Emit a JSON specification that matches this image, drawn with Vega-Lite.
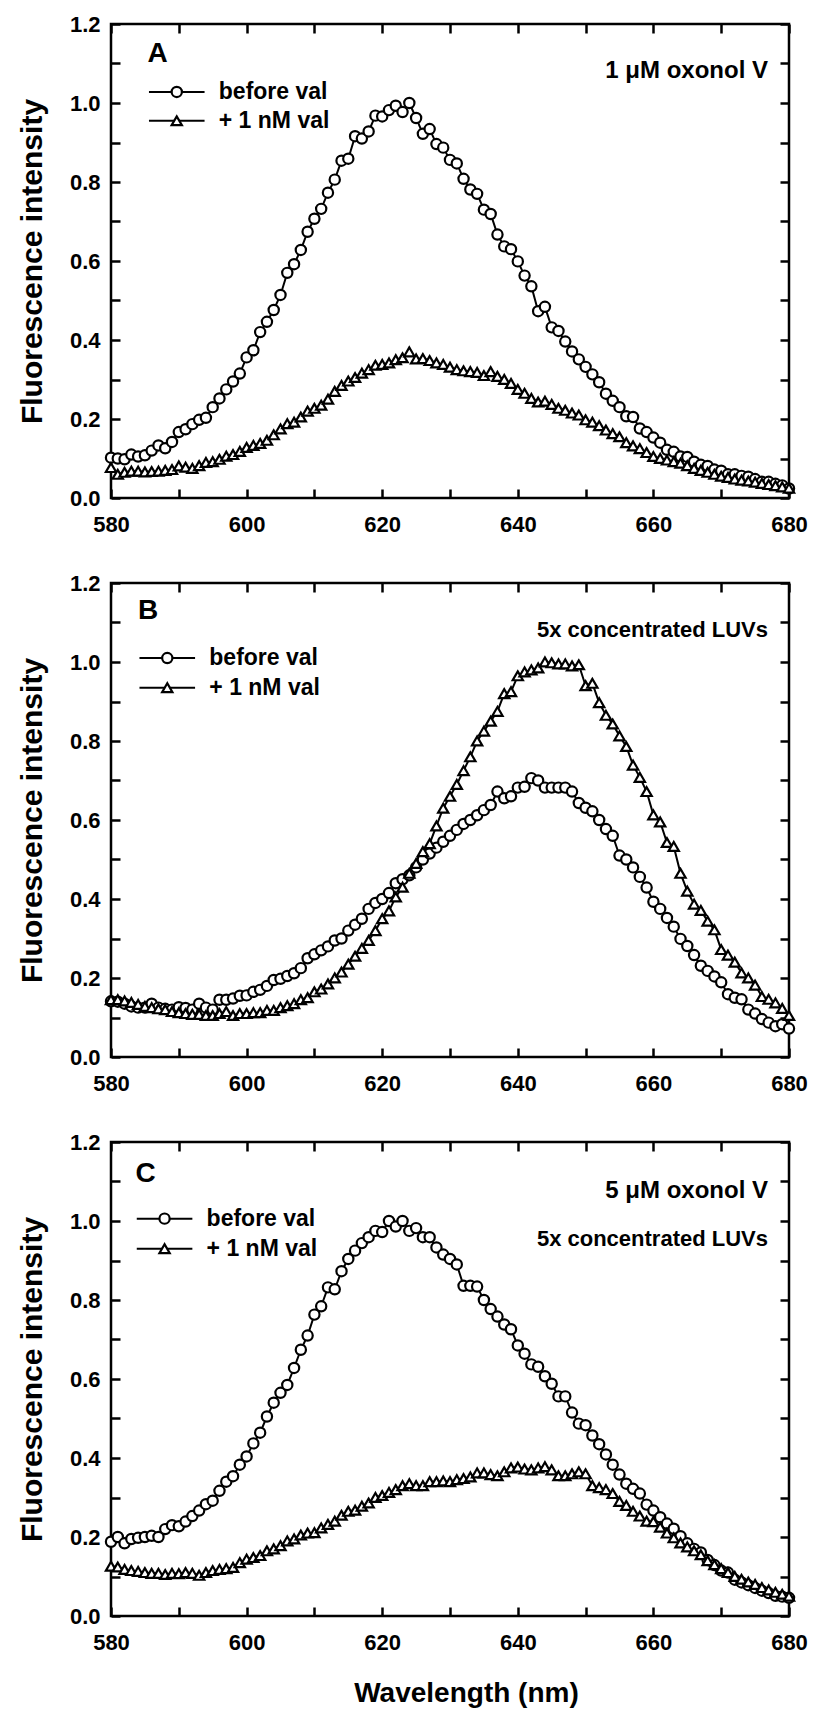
{
"$schema": "https://vega.github.io/schema/vega-lite/v6.json",
"background": "white",
"padding": {"left": 16, "top": 11, "right": 5, "bottom": 5},
"spacing": 85,
"bounds": "flush",
"datasets": {
"A": [
{"series":"before val","nm":580,"val":0.102},{"series":"before val","nm":581,"val":0.100},{"series":"before val","nm":582,"val":0.098},{"series":"before val","nm":583,"val":0.110},{"series":"before val","nm":584,"val":0.105},{"series":"before val","nm":585,"val":0.108},{"series":"before val","nm":586,"val":0.120},{"series":"before val","nm":587,"val":0.133},{"series":"before val","nm":588,"val":0.126},{"series":"before val","nm":589,"val":0.142},
{"series":"before val","nm":590,"val":0.167},{"series":"before val","nm":591,"val":0.174},{"series":"before val","nm":592,"val":0.187},{"series":"before val","nm":593,"val":0.198},{"series":"before val","nm":594,"val":0.203},{"series":"before val","nm":595,"val":0.230},{"series":"before val","nm":596,"val":0.252},{"series":"before val","nm":597,"val":0.275},{"series":"before val","nm":598,"val":0.295},{"series":"before val","nm":599,"val":0.315},
{"series":"before val","nm":600,"val":0.356},{"series":"before val","nm":601,"val":0.374},{"series":"before val","nm":602,"val":0.420},{"series":"before val","nm":603,"val":0.446},{"series":"before val","nm":604,"val":0.476},{"series":"before val","nm":605,"val":0.514},{"series":"before val","nm":606,"val":0.570},{"series":"before val","nm":607,"val":0.592},{"series":"before val","nm":608,"val":0.628},{"series":"before val","nm":609,"val":0.674},
{"series":"before val","nm":610,"val":0.707},{"series":"before val","nm":611,"val":0.732},{"series":"before val","nm":612,"val":0.773},{"series":"before val","nm":613,"val":0.806},{"series":"before val","nm":614,"val":0.854},{"series":"before val","nm":615,"val":0.859},{"series":"before val","nm":616,"val":0.916},{"series":"before val","nm":617,"val":0.910},{"series":"before val","nm":618,"val":0.928},{"series":"before val","nm":619,"val":0.968},
{"series":"before val","nm":620,"val":0.966},{"series":"before val","nm":621,"val":0.982},{"series":"before val","nm":622,"val":0.993},{"series":"before val","nm":623,"val":0.977},{"series":"before val","nm":624,"val":1.000},{"series":"before val","nm":625,"val":0.962},{"series":"before val","nm":626,"val":0.922},{"series":"before val","nm":627,"val":0.934},{"series":"before val","nm":628,"val":0.896},{"series":"before val","nm":629,"val":0.887},
{"series":"before val","nm":630,"val":0.856},{"series":"before val","nm":631,"val":0.847},{"series":"before val","nm":632,"val":0.808},{"series":"before val","nm":633,"val":0.781},{"series":"before val","nm":634,"val":0.770},{"series":"before val","nm":635,"val":0.730},{"series":"before val","nm":636,"val":0.719},{"series":"before val","nm":637,"val":0.667},{"series":"before val","nm":638,"val":0.637},{"series":"before val","nm":639,"val":0.630},
{"series":"before val","nm":640,"val":0.599},{"series":"before val","nm":641,"val":0.563},{"series":"before val","nm":642,"val":0.536},{"series":"before val","nm":643,"val":0.473},{"series":"before val","nm":644,"val":0.484},{"series":"before val","nm":645,"val":0.432},{"series":"before val","nm":646,"val":0.423},{"series":"before val","nm":647,"val":0.396},{"series":"before val","nm":648,"val":0.371},{"series":"before val","nm":649,"val":0.351},
{"series":"before val","nm":650,"val":0.332},{"series":"before val","nm":651,"val":0.313},{"series":"before val","nm":652,"val":0.293},{"series":"before val","nm":653,"val":0.264},{"series":"before val","nm":654,"val":0.246},{"series":"before val","nm":655,"val":0.230},{"series":"before val","nm":656,"val":0.207},{"series":"before val","nm":657,"val":0.205},{"series":"before val","nm":658,"val":0.176},{"series":"before val","nm":659,"val":0.167},
{"series":"before val","nm":660,"val":0.153},{"series":"before val","nm":661,"val":0.140},{"series":"before val","nm":662,"val":0.122},{"series":"before val","nm":663,"val":0.117},{"series":"before val","nm":664,"val":0.105},{"series":"before val","nm":665,"val":0.104},{"series":"before val","nm":666,"val":0.092},{"series":"before val","nm":667,"val":0.084},{"series":"before val","nm":668,"val":0.081},{"series":"before val","nm":669,"val":0.072},
{"series":"before val","nm":670,"val":0.069},{"series":"before val","nm":671,"val":0.060},{"series":"before val","nm":672,"val":0.060},{"series":"before val","nm":673,"val":0.056},{"series":"before val","nm":674,"val":0.054},{"series":"before val","nm":675,"val":0.048},{"series":"before val","nm":676,"val":0.041},{"series":"before val","nm":677,"val":0.041},{"series":"before val","nm":678,"val":0.036},{"series":"before val","nm":679,"val":0.032},
{"series":"before val","nm":680,"val":0.024},
{"series":"+ 1 nM val","nm":580,"val":0.077},{"series":"+ 1 nM val","nm":581,"val":0.060},{"series":"+ 1 nM val","nm":582,"val":0.065},{"series":"+ 1 nM val","nm":583,"val":0.068},{"series":"+ 1 nM val","nm":584,"val":0.068},{"series":"+ 1 nM val","nm":585,"val":0.066},{"series":"+ 1 nM val","nm":586,"val":0.067},{"series":"+ 1 nM val","nm":587,"val":0.068},{"series":"+ 1 nM val","nm":588,"val":0.070},{"series":"+ 1 nM val","nm":589,"val":0.072},
{"series":"+ 1 nM val","nm":590,"val":0.081},{"series":"+ 1 nM val","nm":591,"val":0.078},{"series":"+ 1 nM val","nm":592,"val":0.075},{"series":"+ 1 nM val","nm":593,"val":0.082},{"series":"+ 1 nM val","nm":594,"val":0.090},{"series":"+ 1 nM val","nm":595,"val":0.092},{"series":"+ 1 nM val","nm":596,"val":0.098},{"series":"+ 1 nM val","nm":597,"val":0.106},{"series":"+ 1 nM val","nm":598,"val":0.110},{"series":"+ 1 nM val","nm":599,"val":0.118},
{"series":"+ 1 nM val","nm":600,"val":0.128},{"series":"+ 1 nM val","nm":601,"val":0.133},{"series":"+ 1 nM val","nm":602,"val":0.138},{"series":"+ 1 nM val","nm":603,"val":0.146},{"series":"+ 1 nM val","nm":604,"val":0.160},{"series":"+ 1 nM val","nm":605,"val":0.175},{"series":"+ 1 nM val","nm":606,"val":0.188},{"series":"+ 1 nM val","nm":607,"val":0.192},{"series":"+ 1 nM val","nm":608,"val":0.205},{"series":"+ 1 nM val","nm":609,"val":0.220},
{"series":"+ 1 nM val","nm":610,"val":0.227},{"series":"+ 1 nM val","nm":611,"val":0.235},{"series":"+ 1 nM val","nm":612,"val":0.250},{"series":"+ 1 nM val","nm":613,"val":0.270},{"series":"+ 1 nM val","nm":614,"val":0.285},{"series":"+ 1 nM val","nm":615,"val":0.296},{"series":"+ 1 nM val","nm":616,"val":0.305},{"series":"+ 1 nM val","nm":617,"val":0.316},{"series":"+ 1 nM val","nm":618,"val":0.325},{"series":"+ 1 nM val","nm":619,"val":0.336},
{"series":"+ 1 nM val","nm":620,"val":0.338},{"series":"+ 1 nM val","nm":621,"val":0.342},{"series":"+ 1 nM val","nm":622,"val":0.350},{"series":"+ 1 nM val","nm":623,"val":0.355},{"series":"+ 1 nM val","nm":624,"val":0.370},{"series":"+ 1 nM val","nm":625,"val":0.352},{"series":"+ 1 nM val","nm":626,"val":0.353},{"series":"+ 1 nM val","nm":627,"val":0.348},{"series":"+ 1 nM val","nm":628,"val":0.342},{"series":"+ 1 nM val","nm":629,"val":0.338},
{"series":"+ 1 nM val","nm":630,"val":0.331},{"series":"+ 1 nM val","nm":631,"val":0.325},{"series":"+ 1 nM val","nm":632,"val":0.322},{"series":"+ 1 nM val","nm":633,"val":0.320},{"series":"+ 1 nM val","nm":634,"val":0.318},{"series":"+ 1 nM val","nm":635,"val":0.310},{"series":"+ 1 nM val","nm":636,"val":0.320},{"series":"+ 1 nM val","nm":637,"val":0.308},{"series":"+ 1 nM val","nm":638,"val":0.300},{"series":"+ 1 nM val","nm":639,"val":0.290},
{"series":"+ 1 nM val","nm":640,"val":0.275},{"series":"+ 1 nM val","nm":641,"val":0.265},{"series":"+ 1 nM val","nm":642,"val":0.252},{"series":"+ 1 nM val","nm":643,"val":0.243},{"series":"+ 1 nM val","nm":644,"val":0.245},{"series":"+ 1 nM val","nm":645,"val":0.237},{"series":"+ 1 nM val","nm":646,"val":0.227},{"series":"+ 1 nM val","nm":647,"val":0.222},{"series":"+ 1 nM val","nm":648,"val":0.215},{"series":"+ 1 nM val","nm":649,"val":0.210},
{"series":"+ 1 nM val","nm":650,"val":0.198},{"series":"+ 1 nM val","nm":651,"val":0.192},{"series":"+ 1 nM val","nm":652,"val":0.183},{"series":"+ 1 nM val","nm":653,"val":0.172},{"series":"+ 1 nM val","nm":654,"val":0.163},{"series":"+ 1 nM val","nm":655,"val":0.155},{"series":"+ 1 nM val","nm":656,"val":0.140},{"series":"+ 1 nM val","nm":657,"val":0.132},{"series":"+ 1 nM val","nm":658,"val":0.125},{"series":"+ 1 nM val","nm":659,"val":0.115},
{"series":"+ 1 nM val","nm":660,"val":0.105},{"series":"+ 1 nM val","nm":661,"val":0.100},{"series":"+ 1 nM val","nm":662,"val":0.096},{"series":"+ 1 nM val","nm":663,"val":0.092},{"series":"+ 1 nM val","nm":664,"val":0.088},{"series":"+ 1 nM val","nm":665,"val":0.082},{"series":"+ 1 nM val","nm":666,"val":0.075},{"series":"+ 1 nM val","nm":667,"val":0.070},{"series":"+ 1 nM val","nm":668,"val":0.065},{"series":"+ 1 nM val","nm":669,"val":0.060},
{"series":"+ 1 nM val","nm":670,"val":0.055},{"series":"+ 1 nM val","nm":671,"val":0.052},{"series":"+ 1 nM val","nm":672,"val":0.048},{"series":"+ 1 nM val","nm":673,"val":0.045},{"series":"+ 1 nM val","nm":674,"val":0.043},{"series":"+ 1 nM val","nm":675,"val":0.040},{"series":"+ 1 nM val","nm":676,"val":0.037},{"series":"+ 1 nM val","nm":677,"val":0.034},{"series":"+ 1 nM val","nm":678,"val":0.031},{"series":"+ 1 nM val","nm":679,"val":0.028},
{"series":"+ 1 nM val","nm":680,"val":0.025}
],
"B": [
{"series":"before val","nm":580,"val":0.141},{"series":"before val","nm":581,"val":0.140},{"series":"before val","nm":582,"val":0.135},{"series":"before val","nm":583,"val":0.128},{"series":"before val","nm":584,"val":0.125},{"series":"before val","nm":585,"val":0.125},{"series":"before val","nm":586,"val":0.135},{"series":"before val","nm":587,"val":0.125},{"series":"before val","nm":588,"val":0.122},{"series":"before val","nm":589,"val":0.120},
{"series":"before val","nm":590,"val":0.126},{"series":"before val","nm":591,"val":0.124},{"series":"before val","nm":592,"val":0.120},{"series":"before val","nm":593,"val":0.135},{"series":"before val","nm":594,"val":0.125},{"series":"before val","nm":595,"val":0.120},{"series":"before val","nm":596,"val":0.145},{"series":"before val","nm":597,"val":0.145},{"series":"before val","nm":598,"val":0.148},{"series":"before val","nm":599,"val":0.155},
{"series":"before val","nm":600,"val":0.156},{"series":"before val","nm":601,"val":0.165},{"series":"before val","nm":602,"val":0.170},{"series":"before val","nm":603,"val":0.180},{"series":"before val","nm":604,"val":0.195},{"series":"before val","nm":605,"val":0.198},{"series":"before val","nm":606,"val":0.205},{"series":"before val","nm":607,"val":0.212},{"series":"before val","nm":608,"val":0.225},{"series":"before val","nm":609,"val":0.250},
{"series":"before val","nm":610,"val":0.260},{"series":"before val","nm":611,"val":0.270},{"series":"before val","nm":612,"val":0.280},{"series":"before val","nm":613,"val":0.295},{"series":"before val","nm":614,"val":0.300},{"series":"before val","nm":615,"val":0.320},{"series":"before val","nm":616,"val":0.335},{"series":"before val","nm":617,"val":0.350},{"series":"before val","nm":618,"val":0.375},{"series":"before val","nm":619,"val":0.390},
{"series":"before val","nm":620,"val":0.400},{"series":"before val","nm":621,"val":0.415},{"series":"before val","nm":622,"val":0.440},{"series":"before val","nm":623,"val":0.450},{"series":"before val","nm":624,"val":0.460},{"series":"before val","nm":625,"val":0.480},{"series":"before val","nm":626,"val":0.500},{"series":"before val","nm":627,"val":0.515},{"series":"before val","nm":628,"val":0.530},{"series":"before val","nm":629,"val":0.545},
{"series":"before val","nm":630,"val":0.560},{"series":"before val","nm":631,"val":0.575},{"series":"before val","nm":632,"val":0.590},{"series":"before val","nm":633,"val":0.600},{"series":"before val","nm":634,"val":0.612},{"series":"before val","nm":635,"val":0.625},{"series":"before val","nm":636,"val":0.638},{"series":"before val","nm":637,"val":0.672},{"series":"before val","nm":638,"val":0.655},{"series":"before val","nm":639,"val":0.660},
{"series":"before val","nm":640,"val":0.682},{"series":"before val","nm":641,"val":0.684},{"series":"before val","nm":642,"val":0.706},{"series":"before val","nm":643,"val":0.700},{"series":"before val","nm":644,"val":0.682},{"series":"before val","nm":645,"val":0.682},{"series":"before val","nm":646,"val":0.682},{"series":"before val","nm":647,"val":0.682},{"series":"before val","nm":648,"val":0.672},{"series":"before val","nm":649,"val":0.643},
{"series":"before val","nm":650,"val":0.631},{"series":"before val","nm":651,"val":0.622},{"series":"before val","nm":652,"val":0.600},{"series":"before val","nm":653,"val":0.577},{"series":"before val","nm":654,"val":0.560},{"series":"before val","nm":655,"val":0.510},{"series":"before val","nm":656,"val":0.500},{"series":"before val","nm":657,"val":0.480},{"series":"before val","nm":658,"val":0.456},{"series":"before val","nm":659,"val":0.429},
{"series":"before val","nm":660,"val":0.393},{"series":"before val","nm":661,"val":0.375},{"series":"before val","nm":662,"val":0.352},{"series":"before val","nm":663,"val":0.330},{"series":"before val","nm":664,"val":0.299},{"series":"before val","nm":665,"val":0.281},{"series":"before val","nm":666,"val":0.258},{"series":"before val","nm":667,"val":0.231},{"series":"before val","nm":668,"val":0.218},{"series":"before val","nm":669,"val":0.204},
{"series":"before val","nm":670,"val":0.189},{"series":"before val","nm":671,"val":0.159},{"series":"before val","nm":672,"val":0.150},{"series":"before val","nm":673,"val":0.146},{"series":"before val","nm":674,"val":0.120},{"series":"before val","nm":675,"val":0.110},{"series":"before val","nm":676,"val":0.096},{"series":"before val","nm":677,"val":0.087},{"series":"before val","nm":678,"val":0.078},{"series":"before val","nm":679,"val":0.083},
{"series":"before val","nm":680,"val":0.072},
{"series":"+ 1 nM val","nm":580,"val":0.145},{"series":"+ 1 nM val","nm":581,"val":0.145},{"series":"+ 1 nM val","nm":582,"val":0.142},{"series":"+ 1 nM val","nm":583,"val":0.138},{"series":"+ 1 nM val","nm":584,"val":0.133},{"series":"+ 1 nM val","nm":585,"val":0.128},{"series":"+ 1 nM val","nm":586,"val":0.125},{"series":"+ 1 nM val","nm":587,"val":0.122},{"series":"+ 1 nM val","nm":588,"val":0.120},{"series":"+ 1 nM val","nm":589,"val":0.115},
{"series":"+ 1 nM val","nm":590,"val":0.112},{"series":"+ 1 nM val","nm":591,"val":0.110},{"series":"+ 1 nM val","nm":592,"val":0.108},{"series":"+ 1 nM val","nm":593,"val":0.108},{"series":"+ 1 nM val","nm":594,"val":0.105},{"series":"+ 1 nM val","nm":595,"val":0.105},{"series":"+ 1 nM val","nm":596,"val":0.110},{"series":"+ 1 nM val","nm":597,"val":0.115},{"series":"+ 1 nM val","nm":598,"val":0.105},{"series":"+ 1 nM val","nm":599,"val":0.110},
{"series":"+ 1 nM val","nm":600,"val":0.110},{"series":"+ 1 nM val","nm":601,"val":0.112},{"series":"+ 1 nM val","nm":602,"val":0.112},{"series":"+ 1 nM val","nm":603,"val":0.118},{"series":"+ 1 nM val","nm":604,"val":0.118},{"series":"+ 1 nM val","nm":605,"val":0.125},{"series":"+ 1 nM val","nm":606,"val":0.130},{"series":"+ 1 nM val","nm":607,"val":0.135},{"series":"+ 1 nM val","nm":608,"val":0.145},{"series":"+ 1 nM val","nm":609,"val":0.150},
{"series":"+ 1 nM val","nm":610,"val":0.165},{"series":"+ 1 nM val","nm":611,"val":0.172},{"series":"+ 1 nM val","nm":612,"val":0.185},{"series":"+ 1 nM val","nm":613,"val":0.200},{"series":"+ 1 nM val","nm":614,"val":0.215},{"series":"+ 1 nM val","nm":615,"val":0.235},{"series":"+ 1 nM val","nm":616,"val":0.255},{"series":"+ 1 nM val","nm":617,"val":0.275},{"series":"+ 1 nM val","nm":618,"val":0.295},{"series":"+ 1 nM val","nm":619,"val":0.320},
{"series":"+ 1 nM val","nm":620,"val":0.350},{"series":"+ 1 nM val","nm":621,"val":0.370},{"series":"+ 1 nM val","nm":622,"val":0.405},{"series":"+ 1 nM val","nm":623,"val":0.430},{"series":"+ 1 nM val","nm":624,"val":0.465},{"series":"+ 1 nM val","nm":625,"val":0.490},{"series":"+ 1 nM val","nm":626,"val":0.520},{"series":"+ 1 nM val","nm":627,"val":0.540},{"series":"+ 1 nM val","nm":628,"val":0.585},{"series":"+ 1 nM val","nm":629,"val":0.630},
{"series":"+ 1 nM val","nm":630,"val":0.660},{"series":"+ 1 nM val","nm":631,"val":0.690},{"series":"+ 1 nM val","nm":632,"val":0.725},{"series":"+ 1 nM val","nm":633,"val":0.760},{"series":"+ 1 nM val","nm":634,"val":0.800},{"series":"+ 1 nM val","nm":635,"val":0.825},{"series":"+ 1 nM val","nm":636,"val":0.850},{"series":"+ 1 nM val","nm":637,"val":0.875},{"series":"+ 1 nM val","nm":638,"val":0.920},{"series":"+ 1 nM val","nm":639,"val":0.925},
{"series":"+ 1 nM val","nm":640,"val":0.965},{"series":"+ 1 nM val","nm":641,"val":0.975},{"series":"+ 1 nM val","nm":642,"val":0.980},{"series":"+ 1 nM val","nm":643,"val":0.985},{"series":"+ 1 nM val","nm":644,"val":1.000},{"series":"+ 1 nM val","nm":645,"val":0.998},{"series":"+ 1 nM val","nm":646,"val":0.995},{"series":"+ 1 nM val","nm":647,"val":0.995},{"series":"+ 1 nM val","nm":648,"val":0.990},{"series":"+ 1 nM val","nm":649,"val":0.993},
{"series":"+ 1 nM val","nm":650,"val":0.940},{"series":"+ 1 nM val","nm":651,"val":0.946},{"series":"+ 1 nM val","nm":652,"val":0.897},{"series":"+ 1 nM val","nm":653,"val":0.865},{"series":"+ 1 nM val","nm":654,"val":0.843},{"series":"+ 1 nM val","nm":655,"val":0.813},{"series":"+ 1 nM val","nm":656,"val":0.786},{"series":"+ 1 nM val","nm":657,"val":0.739},{"series":"+ 1 nM val","nm":658,"val":0.708},{"series":"+ 1 nM val","nm":659,"val":0.672},
{"series":"+ 1 nM val","nm":660,"val":0.613},{"series":"+ 1 nM val","nm":661,"val":0.595},{"series":"+ 1 nM val","nm":662,"val":0.543},{"series":"+ 1 nM val","nm":663,"val":0.533},{"series":"+ 1 nM val","nm":664,"val":0.465},{"series":"+ 1 nM val","nm":665,"val":0.420},{"series":"+ 1 nM val","nm":666,"val":0.387},{"series":"+ 1 nM val","nm":667,"val":0.371},{"series":"+ 1 nM val","nm":668,"val":0.344},{"series":"+ 1 nM val","nm":669,"val":0.322},
{"series":"+ 1 nM val","nm":670,"val":0.272},{"series":"+ 1 nM val","nm":671,"val":0.258},{"series":"+ 1 nM val","nm":672,"val":0.240},{"series":"+ 1 nM val","nm":673,"val":0.213},{"series":"+ 1 nM val","nm":674,"val":0.200},{"series":"+ 1 nM val","nm":675,"val":0.182},{"series":"+ 1 nM val","nm":676,"val":0.153},{"series":"+ 1 nM val","nm":677,"val":0.146},{"series":"+ 1 nM val","nm":678,"val":0.137},{"series":"+ 1 nM val","nm":679,"val":0.123},
{"series":"+ 1 nM val","nm":680,"val":0.105}
],
"C": [
{"series":"before val","nm":580,"val":0.188},{"series":"before val","nm":581,"val":0.200},{"series":"before val","nm":582,"val":0.184},{"series":"before val","nm":583,"val":0.195},{"series":"before val","nm":584,"val":0.198},{"series":"before val","nm":585,"val":0.200},{"series":"before val","nm":586,"val":0.203},{"series":"before val","nm":587,"val":0.200},{"series":"before val","nm":588,"val":0.220},{"series":"before val","nm":589,"val":0.230},
{"series":"before val","nm":590,"val":0.227},{"series":"before val","nm":591,"val":0.239},{"series":"before val","nm":592,"val":0.253},{"series":"before val","nm":593,"val":0.267},{"series":"before val","nm":594,"val":0.283},{"series":"before val","nm":595,"val":0.292},{"series":"before val","nm":596,"val":0.317},{"series":"before val","nm":597,"val":0.340},{"series":"before val","nm":598,"val":0.354},{"series":"before val","nm":599,"val":0.383},
{"series":"before val","nm":600,"val":0.404},{"series":"before val","nm":601,"val":0.437},{"series":"before val","nm":602,"val":0.464},{"series":"before val","nm":603,"val":0.505},{"series":"before val","nm":604,"val":0.540},{"series":"before val","nm":605,"val":0.565},{"series":"before val","nm":606,"val":0.585},{"series":"before val","nm":607,"val":0.628},{"series":"before val","nm":608,"val":0.674},{"series":"before val","nm":609,"val":0.710},
{"series":"before val","nm":610,"val":0.763},{"series":"before val","nm":611,"val":0.784},{"series":"before val","nm":612,"val":0.832},{"series":"before val","nm":613,"val":0.827},{"series":"before val","nm":614,"val":0.873},{"series":"before val","nm":615,"val":0.904},{"series":"before val","nm":616,"val":0.925},{"series":"before val","nm":617,"val":0.944},{"series":"before val","nm":618,"val":0.959},{"series":"before val","nm":619,"val":0.975},
{"series":"before val","nm":620,"val":0.972},{"series":"before val","nm":621,"val":1.000},{"series":"before val","nm":622,"val":0.986},{"series":"before val","nm":623,"val":1.000},{"series":"before val","nm":624,"val":0.975},{"series":"before val","nm":625,"val":0.982},{"series":"before val","nm":626,"val":0.959},{"series":"before val","nm":627,"val":0.959},{"series":"before val","nm":628,"val":0.933},{"series":"before val","nm":629,"val":0.915},
{"series":"before val","nm":630,"val":0.904},{"series":"before val","nm":631,"val":0.890},{"series":"before val","nm":632,"val":0.836},{"series":"before val","nm":633,"val":0.836},{"series":"before val","nm":634,"val":0.834},{"series":"before val","nm":635,"val":0.800},{"series":"before val","nm":636,"val":0.777},{"series":"before val","nm":637,"val":0.758},{"series":"before val","nm":638,"val":0.738},{"series":"before val","nm":639,"val":0.726},
{"series":"before val","nm":640,"val":0.685},{"series":"before val","nm":641,"val":0.664},{"series":"before val","nm":642,"val":0.637},{"series":"before val","nm":643,"val":0.631},{"series":"before val","nm":644,"val":0.607},{"series":"before val","nm":645,"val":0.588},{"series":"before val","nm":646,"val":0.556},{"series":"before val","nm":647,"val":0.556},{"series":"before val","nm":648,"val":0.515},{"series":"before val","nm":649,"val":0.487},
{"series":"before val","nm":650,"val":0.483},{"series":"before val","nm":651,"val":0.457},{"series":"before val","nm":652,"val":0.435},{"series":"before val","nm":653,"val":0.409},{"series":"before val","nm":654,"val":0.383},{"series":"before val","nm":655,"val":0.358},{"series":"before val","nm":656,"val":0.335},{"series":"before val","nm":657,"val":0.322},{"series":"before val","nm":658,"val":0.310},{"series":"before val","nm":659,"val":0.282},
{"series":"before val","nm":660,"val":0.267},{"series":"before val","nm":661,"val":0.250},{"series":"before val","nm":662,"val":0.234},{"series":"before val","nm":663,"val":0.221},{"series":"before val","nm":664,"val":0.202},{"series":"before val","nm":665,"val":0.184},{"series":"before val","nm":666,"val":0.170},{"series":"before val","nm":667,"val":0.161},{"series":"before val","nm":668,"val":0.142},{"series":"before val","nm":669,"val":0.129},
{"series":"before val","nm":670,"val":0.115},{"series":"before val","nm":671,"val":0.110},{"series":"before val","nm":672,"val":0.092},{"series":"before val","nm":673,"val":0.085},{"series":"before val","nm":674,"val":0.078},{"series":"before val","nm":675,"val":0.071},{"series":"before val","nm":676,"val":0.064},{"series":"before val","nm":677,"val":0.058},{"series":"before val","nm":678,"val":0.051},{"series":"before val","nm":679,"val":0.049},
{"series":"before val","nm":680,"val":0.046},
{"series":"+ 1 nM val","nm":580,"val":0.126},{"series":"+ 1 nM val","nm":581,"val":0.124},{"series":"+ 1 nM val","nm":582,"val":0.118},{"series":"+ 1 nM val","nm":583,"val":0.115},{"series":"+ 1 nM val","nm":584,"val":0.113},{"series":"+ 1 nM val","nm":585,"val":0.110},{"series":"+ 1 nM val","nm":586,"val":0.108},{"series":"+ 1 nM val","nm":587,"val":0.108},{"series":"+ 1 nM val","nm":588,"val":0.105},{"series":"+ 1 nM val","nm":589,"val":0.108},
{"series":"+ 1 nM val","nm":590,"val":0.107},{"series":"+ 1 nM val","nm":591,"val":0.110},{"series":"+ 1 nM val","nm":592,"val":0.108},{"series":"+ 1 nM val","nm":593,"val":0.103},{"series":"+ 1 nM val","nm":594,"val":0.110},{"series":"+ 1 nM val","nm":595,"val":0.115},{"series":"+ 1 nM val","nm":596,"val":0.118},{"series":"+ 1 nM val","nm":597,"val":0.120},{"series":"+ 1 nM val","nm":598,"val":0.123},{"series":"+ 1 nM val","nm":599,"val":0.135},
{"series":"+ 1 nM val","nm":600,"val":0.144},{"series":"+ 1 nM val","nm":601,"val":0.148},{"series":"+ 1 nM val","nm":602,"val":0.153},{"series":"+ 1 nM val","nm":603,"val":0.165},{"series":"+ 1 nM val","nm":604,"val":0.170},{"series":"+ 1 nM val","nm":605,"val":0.178},{"series":"+ 1 nM val","nm":606,"val":0.190},{"series":"+ 1 nM val","nm":607,"val":0.195},{"series":"+ 1 nM val","nm":608,"val":0.205},{"series":"+ 1 nM val","nm":609,"val":0.210},
{"series":"+ 1 nM val","nm":610,"val":0.211},{"series":"+ 1 nM val","nm":611,"val":0.223},{"series":"+ 1 nM val","nm":612,"val":0.232},{"series":"+ 1 nM val","nm":613,"val":0.240},{"series":"+ 1 nM val","nm":614,"val":0.255},{"series":"+ 1 nM val","nm":615,"val":0.265},{"series":"+ 1 nM val","nm":616,"val":0.268},{"series":"+ 1 nM val","nm":617,"val":0.278},{"series":"+ 1 nM val","nm":618,"val":0.286},{"series":"+ 1 nM val","nm":619,"val":0.300},
{"series":"+ 1 nM val","nm":620,"val":0.305},{"series":"+ 1 nM val","nm":621,"val":0.313},{"series":"+ 1 nM val","nm":622,"val":0.320},{"series":"+ 1 nM val","nm":623,"val":0.330},{"series":"+ 1 nM val","nm":624,"val":0.335},{"series":"+ 1 nM val","nm":625,"val":0.330},{"series":"+ 1 nM val","nm":626,"val":0.330},{"series":"+ 1 nM val","nm":627,"val":0.340},{"series":"+ 1 nM val","nm":628,"val":0.340},{"series":"+ 1 nM val","nm":629,"val":0.342},
{"series":"+ 1 nM val","nm":630,"val":0.340},{"series":"+ 1 nM val","nm":631,"val":0.345},{"series":"+ 1 nM val","nm":632,"val":0.348},{"series":"+ 1 nM val","nm":633,"val":0.352},{"series":"+ 1 nM val","nm":634,"val":0.362},{"series":"+ 1 nM val","nm":635,"val":0.362},{"series":"+ 1 nM val","nm":636,"val":0.358},{"series":"+ 1 nM val","nm":637,"val":0.355},{"series":"+ 1 nM val","nm":638,"val":0.365},{"series":"+ 1 nM val","nm":639,"val":0.375},
{"series":"+ 1 nM val","nm":640,"val":0.377},{"series":"+ 1 nM val","nm":641,"val":0.372},{"series":"+ 1 nM val","nm":642,"val":0.370},{"series":"+ 1 nM val","nm":643,"val":0.375},{"series":"+ 1 nM val","nm":644,"val":0.378},{"series":"+ 1 nM val","nm":645,"val":0.370},{"series":"+ 1 nM val","nm":646,"val":0.355},{"series":"+ 1 nM val","nm":647,"val":0.355},{"series":"+ 1 nM val","nm":648,"val":0.360},{"series":"+ 1 nM val","nm":649,"val":0.365},
{"series":"+ 1 nM val","nm":650,"val":0.360},{"series":"+ 1 nM val","nm":651,"val":0.330},{"series":"+ 1 nM val","nm":652,"val":0.325},{"series":"+ 1 nM val","nm":653,"val":0.320},{"series":"+ 1 nM val","nm":654,"val":0.310},{"series":"+ 1 nM val","nm":655,"val":0.290},{"series":"+ 1 nM val","nm":656,"val":0.280},{"series":"+ 1 nM val","nm":657,"val":0.265},{"series":"+ 1 nM val","nm":658,"val":0.253},{"series":"+ 1 nM val","nm":659,"val":0.240},
{"series":"+ 1 nM val","nm":660,"val":0.239},{"series":"+ 1 nM val","nm":661,"val":0.225},{"series":"+ 1 nM val","nm":662,"val":0.210},{"series":"+ 1 nM val","nm":663,"val":0.198},{"series":"+ 1 nM val","nm":664,"val":0.185},{"series":"+ 1 nM val","nm":665,"val":0.175},{"series":"+ 1 nM val","nm":666,"val":0.165},{"series":"+ 1 nM val","nm":667,"val":0.155},{"series":"+ 1 nM val","nm":668,"val":0.140},{"series":"+ 1 nM val","nm":669,"val":0.130},
{"series":"+ 1 nM val","nm":670,"val":0.120},{"series":"+ 1 nM val","nm":671,"val":0.110},{"series":"+ 1 nM val","nm":672,"val":0.100},{"series":"+ 1 nM val","nm":673,"val":0.093},{"series":"+ 1 nM val","nm":674,"val":0.086},{"series":"+ 1 nM val","nm":675,"val":0.080},{"series":"+ 1 nM val","nm":676,"val":0.072},{"series":"+ 1 nM val","nm":677,"val":0.066},{"series":"+ 1 nM val","nm":678,"val":0.060},{"series":"+ 1 nM val","nm":679,"val":0.055},
{"series":"+ 1 nM val","nm":680,"val":0.050}
]
},
"vconcat": [
{
"width": 678, "height": 474,
"data": {"name": "A"},
"layer": [
{"mark": {"type": "line", "color": "black", "strokeWidth": 2},
 "encoding": {
  "x": {"field": "nm", "type": "quantitative", "scale": {"domain": [580, 680], "nice": false, "zero": false},
        "axis": {"orient": "bottom", "values": [580,590,600,610,620,630,640,650,660,670,680], "labelExpr": "datum.value % 20 === 0 ? datum.label : ''", "title": null}},
  "y": {"field": "val", "type": "quantitative", "scale": {"domain": [0, 1.2], "nice": false},
        "axis": {"orient": "left", "values": [0,0.1,0.2,0.3,0.4,0.5,0.6,0.7,0.8,0.9,1.0,1.1,1.2], "labelExpr": "round(datum.value*10) % 2 === 0 ? format(datum.value, '.1f') : ''", "title": "Fluorescence intensity"}},
  "detail": {"field": "series"}
 }},
{"mark": {"type": "point", "filled": true, "fill": "white", "stroke": "black", "strokeWidth": 2.2, "opacity": 1, "size": 105},
 "encoding": {
  "x": {"field": "nm", "type": "quantitative", "axis": {"orient": "top", "labels": false, "values": [580,590,600,610,620,630,640,650,660,670,680], "title": null}},
  "y": {"field": "val", "type": "quantitative", "axis": {"orient": "right", "labels": false, "values": [0,0.1,0.2,0.3,0.4,0.5,0.6,0.7,0.8,0.9,1.0,1.1,1.2], "title": null}},
  "shape": {"field": "series", "type": "nominal", "scale": {"domain": ["before val", "+ 1 nM val"], "range": ["circle", "triangle-up"]}, "legend": null}
 }},
{"data": {"values": [{}]}, "mark": {"type": "rule", "color": "black", "strokeWidth": 2},
 "encoding": {"x": {"datum": 585.6, "type": "quantitative", "axis": null}, "x2": {"datum": 593.8}, "y": {"datum": 1.028, "type": "quantitative", "axis": null}}},
{"data": {"values": [{}]}, "mark": {"type": "point", "shape": "circle", "filled": true, "fill": "white", "stroke": "black", "strokeWidth": 2.2, "opacity": 1, "size": 105},
 "encoding": {"x": {"datum": 589.7, "type": "quantitative", "axis": null}, "y": {"datum": 1.028, "type": "quantitative", "axis": null}}},
{"data": {"values": [{}]}, "mark": {"type": "text", "text": "before val", "align": "left", "baseline": "middle", "fontSize": 23},
 "encoding": {"x": {"datum": 595.9, "type": "quantitative", "axis": null}, "y": {"datum": 1.028, "type": "quantitative", "axis": null}}},
{"data": {"values": [{}]}, "mark": {"type": "rule", "color": "black", "strokeWidth": 2},
 "encoding": {"x": {"datum": 585.6, "type": "quantitative", "axis": null}, "x2": {"datum": 593.8}, "y": {"datum": 0.955, "type": "quantitative", "axis": null}}},
{"data": {"values": [{}]}, "mark": {"type": "point", "shape": "triangle-up", "filled": true, "fill": "white", "stroke": "black", "strokeWidth": 2.2, "opacity": 1, "size": 105},
 "encoding": {"x": {"datum": 589.7, "type": "quantitative", "axis": null}, "y": {"datum": 0.955, "type": "quantitative", "axis": null}}},
{"data": {"values": [{}]}, "mark": {"type": "text", "text": "+ 1 nM val", "align": "left", "baseline": "middle", "fontSize": 23},
 "encoding": {"x": {"datum": 595.9, "type": "quantitative", "axis": null}, "y": {"datum": 0.955, "type": "quantitative", "axis": null}}},
{"data": {"values": [{}]}, "mark": {"type": "text", "text": "A", "align": "left", "baseline": "middle", "fontSize": 28},
 "encoding": {"x": {"datum": 585.4, "type": "quantitative", "axis": null}, "y": {"datum": 1.125, "type": "quantitative", "axis": null}}},
{"data": {"values": [{}]}, "mark": {"type": "text", "text": "1 μM oxonol V", "align": "right", "baseline": "middle", "fontSize": 24},
 "encoding": {"x": {"datum": 676.9, "type": "quantitative", "axis": null}, "y": {"datum": 1.08, "type": "quantitative", "axis": null}}}
],
"resolve": {"axis": {"x": "independent", "y": "independent"}}
},
{
"width": 678, "height": 474,
"data": {"name": "B"},
"layer": [
{"mark": {"type": "line", "color": "black", "strokeWidth": 2},
 "encoding": {
  "x": {"field": "nm", "type": "quantitative", "scale": {"domain": [580, 680], "nice": false, "zero": false},
        "axis": {"orient": "bottom", "values": [580,590,600,610,620,630,640,650,660,670,680], "labelExpr": "datum.value % 20 === 0 ? datum.label : ''", "title": null}},
  "y": {"field": "val", "type": "quantitative", "scale": {"domain": [0, 1.2], "nice": false},
        "axis": {"orient": "left", "values": [0,0.1,0.2,0.3,0.4,0.5,0.6,0.7,0.8,0.9,1.0,1.1,1.2], "labelExpr": "round(datum.value*10) % 2 === 0 ? format(datum.value, '.1f') : ''", "title": "Fluorescence intensity"}},
  "detail": {"field": "series"}
 }},
{"mark": {"type": "point", "filled": true, "fill": "white", "stroke": "black", "strokeWidth": 2.2, "opacity": 1, "size": 105},
 "encoding": {
  "x": {"field": "nm", "type": "quantitative", "axis": {"orient": "top", "labels": false, "values": [580,590,600,610,620,630,640,650,660,670,680], "title": null}},
  "y": {"field": "val", "type": "quantitative", "axis": {"orient": "right", "labels": false, "values": [0,0.1,0.2,0.3,0.4,0.5,0.6,0.7,0.8,0.9,1.0,1.1,1.2], "title": null}},
  "shape": {"field": "series", "type": "nominal", "scale": {"domain": ["before val", "+ 1 nM val"], "range": ["circle", "triangle-up"]}, "legend": null}
 }},
{"data": {"values": [{}]}, "mark": {"type": "rule", "color": "black", "strokeWidth": 2},
 "encoding": {"x": {"datum": 584.2, "type": "quantitative", "axis": null}, "x2": {"datum": 592.4}, "y": {"datum": 1.01, "type": "quantitative", "axis": null}}},
{"data": {"values": [{}]}, "mark": {"type": "point", "shape": "circle", "filled": true, "fill": "white", "stroke": "black", "strokeWidth": 2.2, "opacity": 1, "size": 105},
 "encoding": {"x": {"datum": 588.3, "type": "quantitative", "axis": null}, "y": {"datum": 1.01, "type": "quantitative", "axis": null}}},
{"data": {"values": [{}]}, "mark": {"type": "text", "text": "before val", "align": "left", "baseline": "middle", "fontSize": 23},
 "encoding": {"x": {"datum": 594.5, "type": "quantitative", "axis": null}, "y": {"datum": 1.01, "type": "quantitative", "axis": null}}},
{"data": {"values": [{}]}, "mark": {"type": "rule", "color": "black", "strokeWidth": 2},
 "encoding": {"x": {"datum": 584.2, "type": "quantitative", "axis": null}, "x2": {"datum": 592.4}, "y": {"datum": 0.935, "type": "quantitative", "axis": null}}},
{"data": {"values": [{}]}, "mark": {"type": "point", "shape": "triangle-up", "filled": true, "fill": "white", "stroke": "black", "strokeWidth": 2.2, "opacity": 1, "size": 105},
 "encoding": {"x": {"datum": 588.3, "type": "quantitative", "axis": null}, "y": {"datum": 0.935, "type": "quantitative", "axis": null}}},
{"data": {"values": [{}]}, "mark": {"type": "text", "text": "+ 1 nM val", "align": "left", "baseline": "middle", "fontSize": 23},
 "encoding": {"x": {"datum": 594.5, "type": "quantitative", "axis": null}, "y": {"datum": 0.935, "type": "quantitative", "axis": null}}},
{"data": {"values": [{}]}, "mark": {"type": "text", "text": "B", "align": "left", "baseline": "middle", "fontSize": 28},
 "encoding": {"x": {"datum": 584.0, "type": "quantitative", "axis": null}, "y": {"datum": 1.13, "type": "quantitative", "axis": null}}},
{"data": {"values": [{}]}, "mark": {"type": "text", "text": "5x concentrated LUVs", "align": "right", "baseline": "middle", "fontSize": 22},
 "encoding": {"x": {"datum": 676.9, "type": "quantitative", "axis": null}, "y": {"datum": 1.08, "type": "quantitative", "axis": null}}}
],
"resolve": {"axis": {"x": "independent", "y": "independent"}}
},
{
"width": 678, "height": 474,
"data": {"name": "C"},
"layer": [
{"mark": {"type": "line", "color": "black", "strokeWidth": 2},
 "encoding": {
  "x": {"field": "nm", "type": "quantitative", "scale": {"domain": [580, 680], "nice": false, "zero": false},
        "axis": {"orient": "bottom", "values": [580,590,600,610,620,630,640,650,660,670,680], "labelExpr": "datum.value % 20 === 0 ? datum.label : ''", "title": "Wavelength (nm)", "titleX": 355}},
  "y": {"field": "val", "type": "quantitative", "scale": {"domain": [0, 1.2], "nice": false},
        "axis": {"orient": "left", "values": [0,0.1,0.2,0.3,0.4,0.5,0.6,0.7,0.8,0.9,1.0,1.1,1.2], "labelExpr": "round(datum.value*10) % 2 === 0 ? format(datum.value, '.1f') : ''", "title": "Fluorescence intensity"}},
  "detail": {"field": "series"}
 }},
{"mark": {"type": "point", "filled": true, "fill": "white", "stroke": "black", "strokeWidth": 2.2, "opacity": 1, "size": 105},
 "encoding": {
  "x": {"field": "nm", "type": "quantitative", "axis": {"orient": "top", "labels": false, "values": [580,590,600,610,620,630,640,650,660,670,680], "title": null}},
  "y": {"field": "val", "type": "quantitative", "axis": {"orient": "right", "labels": false, "values": [0,0.1,0.2,0.3,0.4,0.5,0.6,0.7,0.8,0.9,1.0,1.1,1.2], "title": null}},
  "shape": {"field": "series", "type": "nominal", "scale": {"domain": ["before val", "+ 1 nM val"], "range": ["circle", "triangle-up"]}, "legend": null}
 }},
{"data": {"values": [{}]}, "mark": {"type": "rule", "color": "black", "strokeWidth": 2},
 "encoding": {"x": {"datum": 583.8, "type": "quantitative", "axis": null}, "x2": {"datum": 592.0}, "y": {"datum": 1.006, "type": "quantitative", "axis": null}}},
{"data": {"values": [{}]}, "mark": {"type": "point", "shape": "circle", "filled": true, "fill": "white", "stroke": "black", "strokeWidth": 2.2, "opacity": 1, "size": 105},
 "encoding": {"x": {"datum": 587.9, "type": "quantitative", "axis": null}, "y": {"datum": 1.006, "type": "quantitative", "axis": null}}},
{"data": {"values": [{}]}, "mark": {"type": "text", "text": "before val", "align": "left", "baseline": "middle", "fontSize": 23},
 "encoding": {"x": {"datum": 594.1, "type": "quantitative", "axis": null}, "y": {"datum": 1.006, "type": "quantitative", "axis": null}}},
{"data": {"values": [{}]}, "mark": {"type": "rule", "color": "black", "strokeWidth": 2},
 "encoding": {"x": {"datum": 583.8, "type": "quantitative", "axis": null}, "x2": {"datum": 592.0}, "y": {"datum": 0.93, "type": "quantitative", "axis": null}}},
{"data": {"values": [{}]}, "mark": {"type": "point", "shape": "triangle-up", "filled": true, "fill": "white", "stroke": "black", "strokeWidth": 2.2, "opacity": 1, "size": 105},
 "encoding": {"x": {"datum": 587.9, "type": "quantitative", "axis": null}, "y": {"datum": 0.93, "type": "quantitative", "axis": null}}},
{"data": {"values": [{}]}, "mark": {"type": "text", "text": "+ 1 nM val", "align": "left", "baseline": "middle", "fontSize": 23},
 "encoding": {"x": {"datum": 594.1, "type": "quantitative", "axis": null}, "y": {"datum": 0.93, "type": "quantitative", "axis": null}}},
{"data": {"values": [{}]}, "mark": {"type": "text", "text": "C", "align": "left", "baseline": "middle", "fontSize": 28},
 "encoding": {"x": {"datum": 583.6, "type": "quantitative", "axis": null}, "y": {"datum": 1.12, "type": "quantitative", "axis": null}}},
{"data": {"values": [{}]}, "mark": {"type": "text", "text": "5 μM oxonol V", "align": "right", "baseline": "middle", "fontSize": 24},
 "encoding": {"x": {"datum": 676.9, "type": "quantitative", "axis": null}, "y": {"datum": 1.075, "type": "quantitative", "axis": null}}},
{"data": {"values": [{}]}, "mark": {"type": "text", "text": "5x concentrated LUVs", "align": "right", "baseline": "middle", "fontSize": 22},
 "encoding": {"x": {"datum": 676.9, "type": "quantitative", "axis": null}, "y": {"datum": 0.955, "type": "quantitative", "axis": null}}}
],
"resolve": {"axis": {"x": "independent", "y": "independent"}}
}
],
"config": {
 "view": {"stroke": "black", "strokeWidth": 2.5},
 "axis": {"domain": false, "grid": false, "tickColor": "black", "tickWidth": 2.5, "tickSize": 9, "offset": -9, "labelFlush": false, "labelOverlap": false,
          "labelFont": "Liberation Sans", "labelFontSize": 22, "labelFontWeight": "bold", "labelColor": "black",
          "titleFont": "Liberation Sans", "titleFontSize": 30, "titleFontWeight": "bold", "titleColor": "black"},
 "axisLeft": {"labelPadding": 11, "titlePadding": 22},
 "axisBottom": {"labelPadding": 16, "titlePadding": 26, "titleFontSize": 28},
 "text": {"font": "Liberation Sans", "fontWeight": "bold", "color": "black"}
}
}
